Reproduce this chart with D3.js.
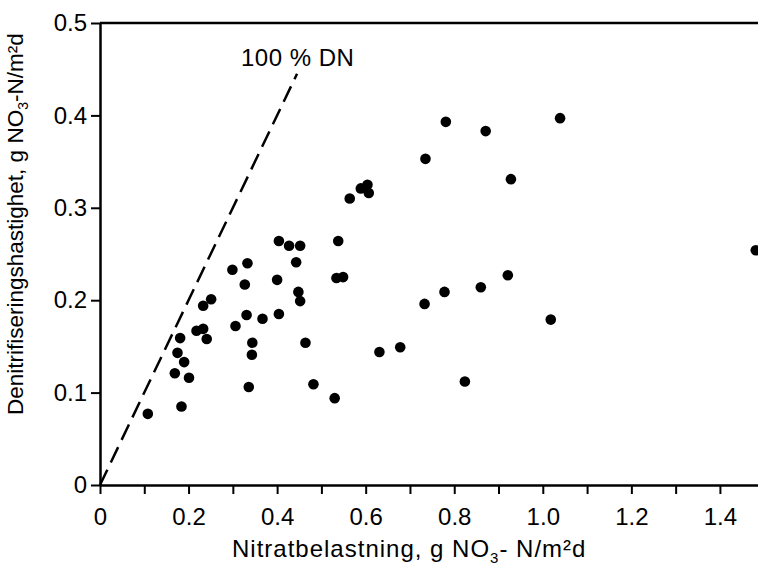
<!DOCTYPE html>
<html>
<head>
<meta charset="utf-8">
<script src="https://cdn.jsdelivr.net/npm/d3@7"></script>
<style>
  body { margin: 0; background: #fff; }
  text { font-family: "Liberation Sans", Arial, sans-serif; fill: #000; }
</style>
</head>
<body>
<div id="chart"></div>
<script>
// nitrate load (g NO3-N/m2d) and denitrification rate (g NO3-N/m2d)
let loadValues = [
  0.108, 0.184, 0.169, 0.201, 0.190, 0.175, 0.181, 0.241, 0.218, 0.233,
  0.233, 0.251, 0.299, 0.333, 0.327, 0.306, 0.331, 0.367, 0.404, 0.344,
  0.343, 0.336, 0.464, 0.482, 0.530, 0.400, 0.404, 0.427, 0.452, 0.443,
  0.448, 0.452, 0.538, 0.534, 0.549, 0.564, 0.589, 0.604, 0.607, 0.631,
  0.678, 0.735, 0.781, 0.871, 1.039, 0.928, 0.921, 0.860, 0.778, 0.733,
  1.018, 0.824, 1.481
];
let rateValues = [
  0.077, 0.085, 0.121, 0.116, 0.133, 0.143, 0.159, 0.158, 0.167, 0.169,
  0.194, 0.201, 0.233, 0.240, 0.217, 0.172, 0.184, 0.180, 0.185, 0.154,
  0.141, 0.106, 0.154, 0.109, 0.094, 0.222, 0.264, 0.259, 0.259, 0.241,
  0.209, 0.199, 0.264, 0.224, 0.225, 0.310, 0.321, 0.325, 0.316, 0.144,
  0.149, 0.353, 0.393, 0.383, 0.397, 0.331, 0.227, 0.214, 0.209, 0.196,
  0.179, 0.112, 0.254
];

// 100 % denitrification line (rate = load)
let dnLine = [[0, 0], [0.445, 0.445]];

let xTicks = [0, 0.1, 0.2, 0.3, 0.4, 0.5, 0.6, 0.7, 0.8, 0.9, 1.0, 1.1, 1.2, 1.3, 1.4];
let xLabels = ["0", "", "0.2", "", "0.4", "", "0.6", "", "0.8", "", "1.0", "", "1.2", "", "1.4"];
let yTicks = [0, 0.1, 0.2, 0.3, 0.4, 0.5];
let yLabels = ["0", "0.1", "0.2", "0.3", "0.4", "0.5"];

let width = 758;
let height = 568;

let svg = d3.select("#chart")
  .append("svg")
  .attr("width", width).attr("height", height);

let xScale = d3.scaleLinear().domain([0, 1.486]).range([100, 758]);
let yScale = d3.scaleLinear().domain([0, 0.5]).range([485, 23]);

// x axis, ticks pointing down
let xAxis = svg.append("g")
  .attr("transform", "translate(0," + yScale(0) + ")")
  .call(d3.axisBottom(xScale)
    .tickValues(xTicks)
    .tickSize(9)
    .tickSizeOuter(0)
    .tickFormat(function(d, i) { return xLabels[i]; }));
xAxis.select(".domain").attr("stroke-width", 2.5);
xAxis.selectAll(".tick line").attr("stroke-width", 2);
xAxis.selectAll(".tick text")
  .attr("y", 23)
  .style("font-size", "24px")
  .style("font-family", "'Liberation Sans', Arial, sans-serif");

// y axis, ticks pointing left
let yAxis = svg.append("g")
  .attr("transform", "translate(" + xScale(0) + ",0)")
  .call(d3.axisLeft(yScale)
    .tickValues(yTicks)
    .tickSize(9)
    .tickSizeOuter(0)
    .tickFormat(function(d, i) { return yLabels[i]; }));
yAxis.select(".domain").attr("stroke-width", 2.5);
yAxis.selectAll(".tick text")
  .attr("x", -13)
  .style("font-size", "24px")
  .style("font-family", "'Liberation Sans', Arial, sans-serif");
yAxis.selectAll(".tick line").attr("stroke-width", 2);

// top frame line
svg.append("line")
  .attr("x1", xScale(0)).attr("x2", width)
  .attr("y1", yScale(0.5)).attr("y2", yScale(0.5))
  .attr("stroke", "#000").attr("stroke-width", 2.5);

// dashed 100 % DN line
svg.append("path")
  .attr("d", d3.line()(dnLine.map(function(p) { return [xScale(p[0]), yScale(p[1])]; })))
  .attr("fill", "none")
  .attr("stroke", "#000")
  .attr("stroke-width", 2.5)
  .attr("stroke-dasharray", "17,8");

svg.append("text")
  .attr("x", 241)
  .attr("y", 66)
  .style("font-size", "24px")
  .style("letter-spacing", "0.5px")
  .text("100 % DN");

// data points
svg.append("g")
  .selectAll("circle")
  .data(loadValues)
  .enter()
  .append("circle")
  .attr("cx", function(d) { return xScale(d); })
  .attr("cy", function(d, i) { return yScale(rateValues[i]); })
  .attr("r", 5.3)
  .attr("fill", "#000");

// axis titles
let xTitle = svg.append("text")
  .attr("x", 232)
  .attr("y", 557)
  .style("font-size", "24px")
  .style("letter-spacing", "1px");
xTitle.append("tspan").text("Nitratbelastning, g NO");
xTitle.append("tspan").attr("dy", 6).style("font-size", "15px").text("3");
xTitle.append("tspan").attr("dy", -6).text("- N/m²d");

let yTitle = svg.append("text")
  .attr("transform", "translate(23,415) rotate(-90)")
  .style("font-size", "22.5px");
yTitle.append("tspan").text("Denitrifiseringshastighet, g NO");
yTitle.append("tspan").attr("dy", 5).style("font-size", "14px").text("3");
yTitle.append("tspan").attr("dy", -5).text("-N/m²d");
</script>
</body>
</html>
